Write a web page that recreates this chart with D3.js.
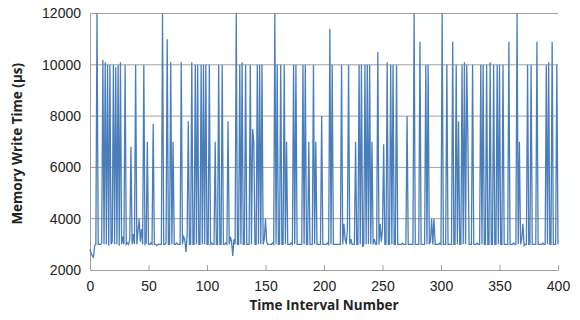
<!DOCTYPE html>
<html>
<head>
<meta charset="utf-8">
<script src="https://cdn.jsdelivr.net/npm/d3@7"></script>
<style>
	body { margin: 0; background: #fff; }
	svg { display: block; font-family: "Open Sans", "Liberation Sans", sans-serif; }
	.tick text { fill: #222; font-size: 14px; }
</style>
</head>
<body>
<div id="chart"></div>
<script>
// memory write time per interval (µs)
const writeTimes = [
	2800, 2650, 2550, 2500, 2950, 3000, 12000, 3000, 3000, 3000, 3050, 10200, 3000, 10100, 3000, 10000, 2950, 10000, 3000, 3100,
	10000, 3000, 9900, 3000, 10000, 2950, 10100, 3000, 3300, 3000, 10000, 3000, 3050, 3000, 3200, 6800, 3000, 3400, 3000, 10000,
	3000, 3500, 4000, 3100, 3600, 3000, 10000, 3000, 3050, 7000, 3000, 3000, 3050, 3000, 7700, 3000, 3000, 2950, 3000, 3000,
	3000, 3000, 12000, 3000, 3000, 3050, 11000, 3000, 3000, 10100, 3000, 7000, 3000, 3000, 3050, 3000, 3000, 3000, 10100, 3000,
	3300, 3200, 2700, 3300, 7800, 3000, 3000, 10100, 3000, 3000, 10000, 3000, 10000, 3000, 3000, 10000, 3000, 10000, 3000, 10000,
	3000, 3000, 10000, 3000, 3050, 3000, 3000, 7000, 3000, 3000, 10000, 3000, 3000, 10000, 3000, 3000, 3050, 3000, 7800, 3000,
	3300, 3100, 2550, 3200, 3000, 12000, 3000, 3000, 10000, 3000, 10100, 3000, 3000, 10000, 3000, 3000, 3000, 10000, 3000, 7500,
	7000, 3000, 3000, 10000, 3000, 10000, 3000, 10000, 3000, 3200, 4000, 3100, 3000, 3000, 3000, 3000, 3050, 3000, 12000, 3000,
	10000, 3000, 3000, 10000, 3000, 3000, 10000, 3000, 7000, 3000, 3000, 3000, 3050, 3000, 10000, 3000, 10000, 3000, 3000, 3000,
	3000, 3000, 10000, 3000, 10000, 3000, 3000, 7000, 3000, 3000, 3000, 10000, 3000, 7000, 3000, 3000, 3000, 3000, 8000, 3000,
	3000, 3000, 3000, 3050, 3000, 11400, 3000, 10000, 3000, 3000, 3000, 3000, 3000, 3000, 3000, 10000, 3000, 3800, 3200, 3000,
	3600, 10000, 3000, 3200, 3000, 3000, 3000, 7000, 3000, 3000, 10000, 3000, 10000, 2900, 3000, 10000, 3000, 10000, 3000, 10000,
	3000, 7000, 3000, 3200, 3000, 3000, 10500, 3000, 3800, 3100, 3600, 6900, 3000, 3000, 10100, 3000, 3000, 10000, 3000, 10000,
	3000, 3000, 10000, 3000, 3000, 3000, 3000, 3050, 3000, 3000, 3000, 8000, 3000, 3000, 3000, 3000, 3000, 12000, 3000, 3000,
	3000, 3000, 10900, 3000, 3000, 3000, 3000, 10000, 3000, 10000, 3000, 3100, 4000, 3000, 4000, 3000, 3000, 3000, 3000, 3050,
	3000, 12000, 3000, 3000, 3000, 10000, 3000, 3000, 3000, 3000, 10900, 3000, 3000, 10000, 3000, 7800, 3000, 3000, 10000, 3000,
	10100, 3000, 10000, 7000, 3000, 3000, 3000, 10000, 3000, 3000, 3000, 3050, 3000, 3000, 10000, 3000, 10000, 3000, 3000, 10000,
	3000, 3000, 10100, 3000, 3000, 10000, 3000, 3000, 10000, 3000, 10000, 3000, 3000, 10000, 3000, 3000, 3000, 3000, 10900, 3000,
	3000, 3000, 3050, 3000, 3000, 12000, 3000, 7000, 3000, 3200, 3800, 2950, 3000, 3000, 10000, 3000, 3000, 10000, 3000, 3000,
	3000, 3000, 10900, 3000, 3000, 3000, 3000, 3050, 3000, 3000, 10000, 3000, 10100, 3000, 3000, 10900, 3000, 3000, 3000, 10000,
	3000
];
const xTicks = [0, 50, 100, 150, 200, 250, 300, 350, 400];
const yTicks = [2000, 4000, 6000, 8000, 10000, 12000];
const xTitle = "Time Interval Number";
const yTitle = "Memory Write Time (µs)";

const width = 580, height = 320;
const plot = { left: 90, right: 558, top: 13.5, bottom: 270 };

const svg = d3.select("#chart")
	.append("svg")
	.attr("width", width)
	.attr("height", height);

const x = d3.scaleLinear().domain([0, 400]).range([plot.left, plot.right]);
const y = d3.scaleLinear().domain([2000, 12000]).range([plot.bottom, plot.top]);

// horizontal gridlines
svg.append("g")
	.selectAll("line")
	.data(yTicks.slice(1))
	.enter().append("line")
	.attr("x1", plot.left)
	.attr("x2", plot.right)
	.attr("y1", (d) => y(d))
	.attr("y2", (d) => y(d))
	.attr("stroke", "#a0a0a0")
	.attr("stroke-width", 1);

// y axis
const yAxis = svg.append("g")
	.attr("transform", "translate(" + plot.left + ",0)")
	.call(d3.axisLeft(y).tickValues(yTicks).tickSize(0).tickPadding(9).tickFormat(d3.format("d")));
yAxis.select(".domain").attr("stroke", "#a0a0a0");

// x axis, ticks point inward like the original
const xAxis = svg.append("g")
	.attr("transform", "translate(0," + plot.bottom + ")")
	.call(d3.axisBottom(x).tickValues(xTicks).tickSizeInner(-5).tickSizeOuter(0).tickPadding(11));
xAxis.select(".domain").attr("stroke", "#a0a0a0");
xAxis.selectAll(".tick line").attr("stroke", "#a0a0a0");

const lineGen = d3.line()
	.x((d, i) => x(i))
	.y((d) => y(Math.min(d, 12000)));

svg.append("path")
	.datum(writeTimes)
	.attr("fill", "none")
	.attr("stroke", "#4a7ebb")
	.attr("stroke-width", 1.3)
	.attr("stroke-linejoin", "miter")
	.attr("d", lineGen);

svg.append("text")
	.attr("x", (plot.left + plot.right) / 2)
	.attr("y", 310)
	.attr("text-anchor", "middle")
	.attr("font-size", 13.5)
	.attr("font-weight", "bold")
	.attr("fill", "#222")
	.text(xTitle);

svg.append("text")
	.attr("transform", "translate(22," + ((plot.top + plot.bottom) / 2 + 2) + ") rotate(-90)")
	.attr("text-anchor", "middle")
	.attr("font-size", 13.5)
	.attr("font-weight", "bold")
	.attr("fill", "#222")
	.text(yTitle);
</script>
</body>
</html>
